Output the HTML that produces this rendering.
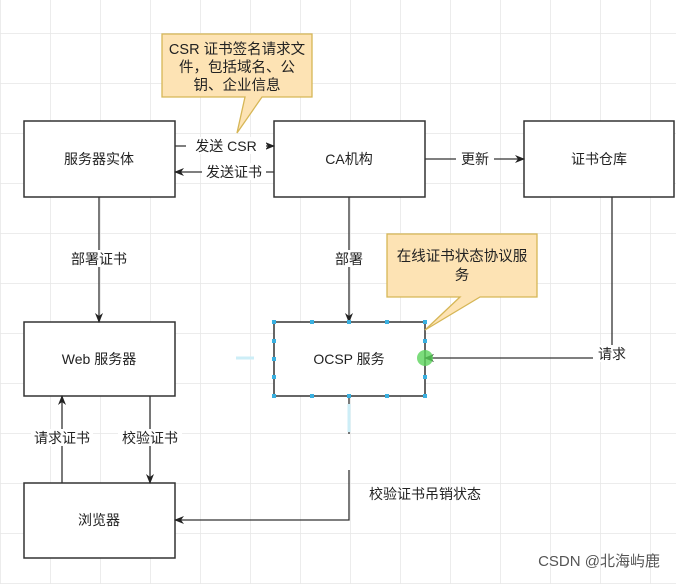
<!DOCTYPE html>
<html><head><meta charset="utf-8"><style>
html,body{margin:0;padding:0;background:#fff;}
svg{display:block;font-family:"Liberation Sans","Noto Sans CJK SC",sans-serif;}
</style></head><body>
<svg width="676" height="584" viewBox="0 0 676 584" xmlns="http://www.w3.org/2000/svg">
<defs>
<pattern id="g" width="50" height="50" patternUnits="userSpaceOnUse" x="0" y="33">
<path d="M0 0H50M0 0V50" stroke="#e6e6e6" stroke-width="1.5" fill="none"/>
</pattern>
<marker id="a" markerWidth="10" markerHeight="10" refX="9" refY="5" orient="auto" markerUnits="userSpaceOnUse">
<path d="M0 1L10 5L0 9L3 5Z" fill="#222"/>
</marker>
</defs>
<rect width="676" height="584" fill="url(#g)"/>
<g stroke="#333" stroke-width="1.5" fill="#fff">
<rect x="24" y="121" width="151" height="76"/>
<rect x="274" y="121" width="151" height="76"/>
<rect x="524" y="121" width="150" height="76"/>
<rect x="24" y="322" width="151" height="74"/>
<rect x="274" y="322" width="151" height="74"/>
<rect x="24" y="483" width="151" height="75"/>
</g>
<g stroke="#333" stroke-width="1.3" fill="none" marker-end="url(#a)">
<path d="M175 146H274"/>
<path d="M274 172H175"/>
<path d="M425 159H524"/>
<path d="M99 197V322"/>
<path d="M349 197V322"/>
<path d="M612 197V358H425"/>
<path d="M62 483V396"/>
<path d="M150 396V483"/>
<path d="M349 470V520H175"/>
</g>
<line x1="349" y1="396" x2="349" y2="434" stroke="#333" stroke-width="1.3"/>
<g font-size="14" fill="#222" text-anchor="middle">
<rect x="186" y="137" width="80" height="17" fill="#fff"/><text x="226" y="151">发送 CSR</text>
<rect x="202" y="163" width="64" height="17" fill="#fff"/><text x="234" y="177">发送证书</text>
<rect x="456" y="150" width="38" height="17" fill="#fff"/><text x="475" y="164">更新</text>
<rect x="68" y="250" width="62" height="17" fill="#fff"/><text x="99" y="264">部署证书</text>
<rect x="330" y="250" width="38" height="17" fill="#fff"/><text x="349" y="264">部署</text>
<rect x="593" y="345" width="38" height="17" fill="#fff"/><text x="612" y="359">请求</text>
<rect x="31" y="429" width="62" height="17" fill="#fff"/><text x="62" y="443">请求证书</text>
<rect x="118" y="429" width="64" height="17" fill="#fff"/><text x="150" y="443">校验证书</text>
<text x="425" y="499">校验证书吊销状态</text>
<text x="99" y="164">服务器实体</text>
<text x="349" y="164">CA机构</text>
<text x="599" y="164">证书仓库</text>
<text x="99" y="364">Web 服务器</text>
<text x="349" y="364">OCSP 服务</text>
<text x="99" y="525">浏览器</text>
</g>
<g stroke="#d6b656" stroke-width="1.3" fill="#fde3b4">
<path d="M162 34H312V97H262L237 133L245 97H162Z"/>
<path d="M387 234H537V297H480L425 330L460 297H387Z"/>
</g>
<g font-size="14.5" fill="#222" text-anchor="middle">
<text x="237" y="54">CSR 证书签名请求文</text>
<text x="237" y="72">件，包括域名、公</text>
<text x="237" y="90">钥、企业信息</text>
<text x="462" y="261">在线证书状态协议服</text>
<text x="462" y="280">务</text>
</g>
<g fill="#3ab0e0">
<rect x="272" y="320" width="4" height="4"/><rect x="310" y="320" width="4" height="4"/><rect x="347" y="320" width="4" height="4"/><rect x="385" y="320" width="4" height="4"/><rect x="423" y="320" width="4" height="4"/>
<rect x="272" y="394" width="4" height="4"/><rect x="310" y="394" width="4" height="4"/><rect x="347" y="394" width="4" height="4"/><rect x="385" y="394" width="4" height="4"/><rect x="423" y="394" width="4" height="4"/>
<rect x="272" y="339" width="4" height="4"/><rect x="272" y="357" width="4" height="4"/><rect x="272" y="375" width="4" height="4"/>
<rect x="423" y="339" width="4" height="4"/><rect x="423" y="375" width="4" height="4"/>
</g>
<circle cx="425" cy="358" r="8" fill="#5bd35b" opacity="0.8"/>
<path d="M236 358h18M349 404v28" stroke="#cdeef7" stroke-width="3"/>
<text x="660" y="566" font-size="15" fill="#555" text-anchor="end">CSDN @北海屿鹿</text>
</svg>
</body></html>
